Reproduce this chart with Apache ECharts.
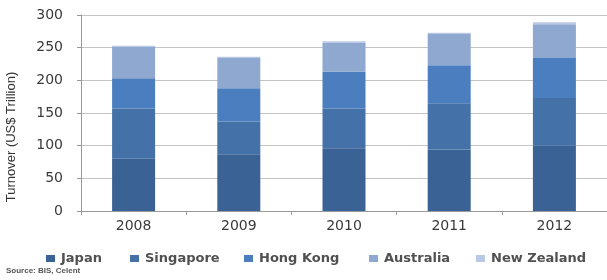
<!DOCTYPE html>
<html>
<head>
<meta charset="utf-8">
<script src="https://cdn.jsdelivr.net/npm/echarts@6/dist/echarts.min.js"></script>
<style>
  html, body { margin: 0; padding: 0; background: #fff; }
  #chart { width: 607px; height: 280px; }
</style>
</head>
<body>
<div id="chart"></div>
<script>
const years = ['2008', '2009', '2010', '2011', '2012'];
const japan = [80, 87, 96, 94, 100];
const singapore = [77, 50, 61, 71, 73];
const hongKong = [46, 51, 56, 58, 61];
const australia = [48, 46, 45, 48, 52];
const newZealand = [2, 2, 2, 2, 3];
const yTicks = [0, 50, 100, 150, 200, 250, 300];

const seriesNames = ['Japan', 'Singapore', 'Hong Kong', 'Australia', 'New Zealand'];
const seriesColors = ['#3b6294', '#4472a8', '#4a7ebe', '#8ea8d0', '#b9c9e3'];
// where each legend entry starts in the picture
const legendLeft = [41, 125, 239, 364, 471];

window.addEventListener('load', function () {
    const chart = echarts.init(document.getElementById('chart'));
    const values = [japan, singapore, hongKong, australia, newZealand];

    const series = seriesNames.map(function (name, i) {
        return {
            name: name,
            type: 'bar',
            stack: 'total',
            barWidth: 43,
            data: values[i],
            itemStyle: { color: seriesColors[i] }
        };
    });

    const legends = seriesNames.map(function (name, i) {
        return {
            left: legendLeft[i],
            top: 247,
            itemWidth: 9,
            itemHeight: 7,
            itemGap: 4,
            icon: 'rect',
            textStyle: { fontFamily: 'DejaVu Sans', fontWeight: 'bold', fontSize: 13, color: '#505050', padding: [0, 0, 0, 1] },
            data: [name]
        };
    });

    chart.setOption({
        animation: false,
        grid: { left: 81, top: 15, width: 533, height: 196 },
        legend: legends,
        graphic: [{
            type: 'text',
            left: 6,
            top: 267,
            style: { text: 'Source: BIS, Celent', font: 'bold 8px Liberation Sans', fill: '#555' }
        }, {
            type: 'text',
            x: 11,
            y: 137,
            rotation: Math.PI / 2,
            style: {
                text: 'Turnover (US$ Trillion)',
                font: '13px Liberation Sans',
                fill: '#333',
                align: 'center',
                verticalAlign: 'middle'
            }
        }],
        xAxis: {
            type: 'category',
            data: years,
            axisLine: { lineStyle: { color: '#999' } },
            axisTick: { show: true, length: 4, lineStyle: { color: '#999' } },
            axisLabel: { fontFamily: 'DejaVu Sans', fontSize: 14, color: '#3a3a3a', margin: 8 }
        },
        yAxis: {
            type: 'value',
            min: yTicks[0],
            max: yTicks[yTicks.length - 1],
            interval: 50,
            axisLine: { show: true, lineStyle: { color: '#999' } },
            axisTick: { show: true, length: 4, lineStyle: { color: '#999' } },
            axisLabel: { fontFamily: 'DejaVu Sans', fontSize: 14, color: '#3a3a3a', margin: 18 },
            splitLine: { lineStyle: { color: '#c4c4c4', width: 1 } }
        },
        series: series
    });
});
</script>
</body>
</html>
